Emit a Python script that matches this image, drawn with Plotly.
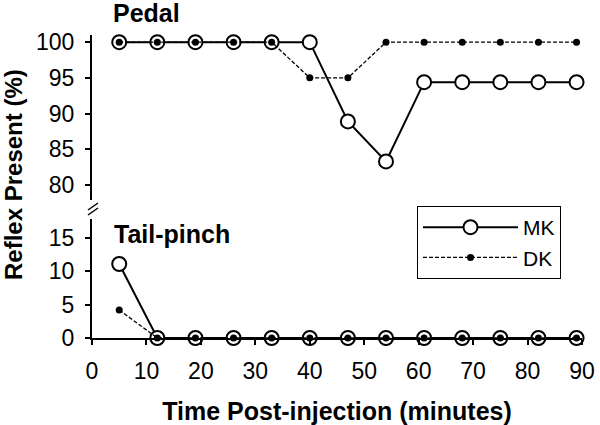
import plotly.graph_objects as go

# ---- data ----
time_min = [5, 12, 19, 26, 33, 40, 47, 54, 61, 68, 75, 82, 89]
pedal_mk = [100, 100, 100, 100, 100, 100, 88.9, 83.3, 94.4, 94.4, 94.4, 94.4, 94.4]
pedal_dk = [100, 100, 100, 100, 100, 95, 95, 100, 100, 100, 100, 100, 100]
tail_mk = [11.1, 0, 0, 0, 0, 0, 0, 0, 0, 0, 0, 0, 0]
tail_dk = [4.2, 0, 0, 0, 0, 0, 0, 0, 0, 0, 0, 0, 0]
x_ticks = [0, 10, 20, 30, 40, 50, 60, 70, 80, 90]
pedal_ticks = [80, 85, 90, 95, 100]
tail_ticks = [0, 5, 10, 15]

FONT = "Liberation Sans, Arial, sans-serif"

mk_style = dict(mode="lines+markers", line=dict(color="black", width=2),
                marker=dict(symbol="circle", size=14, color="white",
                            line=dict(color="black", width=2)),
                cliponaxis=False)
dk_style = dict(mode="lines+markers", line=dict(color="black", width=1.3, dash="4px,2px"),
                marker=dict(symbol="circle", size=7, color="black"),
                cliponaxis=False)

fig = go.Figure()
fig.add_trace(go.Scatter(x=time_min, y=pedal_mk, name="MK", legendgroup="MK",
                         xaxis="x", yaxis="y2", **mk_style))
fig.add_trace(go.Scatter(x=time_min, y=tail_mk, name="MK", legendgroup="MK",
                         showlegend=False, xaxis="x", yaxis="y", **mk_style))
fig.add_trace(go.Scatter(x=time_min, y=pedal_dk, name="DK", legendgroup="DK",
                         xaxis="x", yaxis="y2", **dk_style))
fig.add_trace(go.Scatter(x=time_min, y=tail_dk, name="DK", legendgroup="DK",
                         showlegend=False, xaxis="x", yaxis="y", **dk_style))

L, R, T, B = 92, 18, 35, 87
W, H = 600, 425
PW, PH = W - L - R, H - T - B

def px(xp):
    return (xp - L) / PW

def py(yp):
    return (H - B - yp) / PH

axis_common = dict(showline=True, linecolor="black", linewidth=2, ticks="outside",
                   ticklen=5, tickwidth=1.5, tickcolor="black", showgrid=False,
                   zeroline=False, automargin=False,
                   tickfont=dict(family=FONT, size=23, color="black"))

fig.update_layout(
    width=W, height=H,
    margin=dict(l=L, r=R, t=T, b=B, autoexpand=False),
    paper_bgcolor="white", plot_bgcolor="white",
    showlegend=True,
    legend=dict(x=px(417), y=py(206), xanchor="left", yanchor="top",
                bordercolor="black", borderwidth=1, bgcolor="white",
                font=dict(family=FONT, size=21, color="black"),
                tracegroupgap=0, itemwidth=95),
    xaxis=dict(range=[0, 90], tickvals=x_ticks, anchor="y",
               ticklabelstandoff=6,
               title=dict(text="<b>Time Post-injection (minutes)</b>", standoff=20,
                          font=dict(family=FONT, size=25, color="black")),
               **axis_common),
    yaxis=dict(range=[0, 17.85], tickvals=tail_ticks, domain=[0, py(219)],
               anchor="x", ticklabelstandoff=6, **axis_common),
    yaxis2=dict(range=[77.9, 101], tickvals=pedal_ticks, domain=[py(200), 1],
                anchor="x", ticklabelstandoff=6, **axis_common),
    annotations=[
        dict(text="<b>Pedal</b>", x=px(111), y=py(13), xref="paper", yref="paper",
             xanchor="left", yanchor="middle", showarrow=False,
             font=dict(family=FONT, size=25, color="black")),
        dict(text="<b>Tail-pinch</b>", x=px(112), y=py(234), xref="paper", yref="paper",
             xanchor="left", yanchor="middle", showarrow=False,
             font=dict(family=FONT, size=25, color="black")),
        dict(text="<b>Reflex Present (%)</b>", x=px(13), y=py(175), xref="paper",
             yref="paper", xanchor="center", yanchor="middle", textangle=-90,
             showarrow=False, font=dict(family=FONT, size=24, color="black")),
    ],
    shapes=[
        dict(type="line", xref="paper", yref="paper", x0=px(88), y0=py(210),
             x1=px(98), y1=py(203), line=dict(color="black", width=1.5)),
        dict(type="line", xref="paper", yref="paper", x0=px(88), y0=py(215),
             x1=px(98), y1=py(208), line=dict(color="black", width=1.5)),
    ],
)

fig.write_html("out.html", config={"displayModeBar": False},
               post_script="document.body.style.margin='0';")
